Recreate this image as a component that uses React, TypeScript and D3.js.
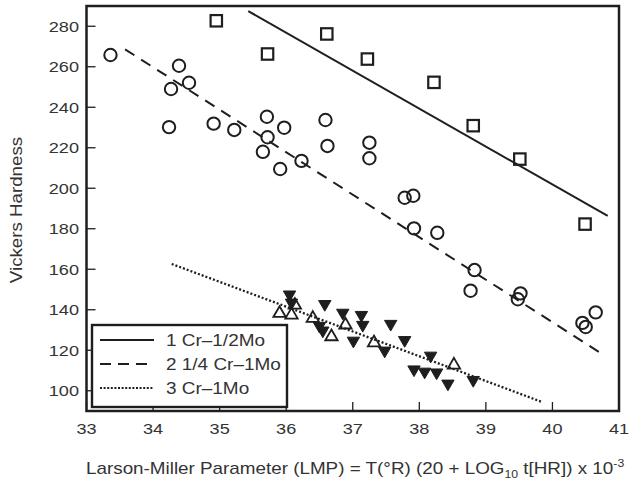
import React from "react";
import * as d3 from "d3";

const xTicks = [33, 34, 35, 36, 37, 38, 39, 40, 41];
const yTicks = [100, 120, 140, 160, 180, 200, 220, 240, 260, 280];

const series1X = [34.95, 35.72, 36.61, 37.22, 38.22, 38.81, 39.51, 40.49];
const series1Y = [282.7, 266.3, 276.2, 263.8, 252.3, 230.9, 214.4, 182.3];

const series2X = [33.36, 34.39, 34.27, 34.54, 34.24, 34.91, 35.22, 35.71, 35.72, 35.65, 35.97, 35.91, 36.23, 36.59, 36.62, 37.25, 37.25, 37.78, 37.91, 37.92, 38.27, 38.83, 38.77, 39.52, 39.48, 40.65, 40.45, 40.5];
const series2Y = [265.8, 260.5, 249, 252.1, 230.2, 231.9, 228.8, 235.3, 225.2, 218, 229.9, 209.5, 213.5, 233.7, 220.9, 222.5, 214.8, 195.3, 196.3, 180.2, 178, 159.6, 149.4, 148.1, 145.2, 138.7, 133.5, 131.5];

const openTriX = [35.9, 36.08, 36.13, 36.4, 36.68, 36.89, 37.32, 38.52];
const openTriY = [138.2, 137.4, 142.3, 135.8, 126.7, 132.5, 123.7, 112.7];

const filledTriX = [36.05, 36.08, 36.58, 36.85, 37.13, 37.15, 36.5, 36.55, 37.01, 37.57, 37.78, 37.48, 38.17, 37.92, 38.08, 38.26, 38.43, 38.81];
const filledTriY = [147.5, 143.5, 142.8, 138.5, 137.4, 132.5, 132, 129.7, 124.7, 133, 125, 119.8, 117.3, 110.5, 109.4, 109, 103.5, 105.3];

const fitLabels = ["1 Cr\u20131/2Mo", "2 1/4 Cr\u20131Mo", "3 Cr\u20131Mo"];
const fitX1 = [35.43, 33.58, 34.28];
const fitY1 = [287.5, 268.6, 162.6];
const fitX2 = [40.83, 40.75, 39.84];
const fitY2 = [186.3, 118.1, 94.5];

const INK = "#1e1e1e";
const TEXT = "#333";
const FONT = "'Liberation Sans', Arial, Helvetica, sans-serif";
const SX = 1.17;
const dashes = [null, "11,8", "2,2"];

export default function App() {
  const left = 86.5, right = 619, top = 6, bottom = 411;
  const x = d3.scaleLinear().domain([33, 41]).range([left, right]);
  const y = d3.scaleLinear().domain([90, 290]).range([bottom, top]);

  const triUp = d3.symbol().type(d3.symbolTriangle).size(66)() as string;

  const legX = 92, legY = 325, legW = 195, legH = 82;

  return (
    <svg width={629} height={488} style={{ position: "absolute", left: 0, top: 0, background: "#fff" }}>
      <rect width={629} height={488} fill="#fff" />
      {xTicks.map((t) => (
        <line key={"xt" + t} x1={x(t)} x2={x(t)} y1={bottom} y2={bottom - 9} stroke={INK} strokeWidth={1.3} />
      ))}
      {yTicks.map((t) => (
        <line key={"yt" + t} x1={left} x2={left + 9} y1={y(t)} y2={y(t)} stroke={INK} strokeWidth={1.3} />
      ))}
      {fitLabels.map((l, i) => (
        <line key={"fit" + i} x1={x(fitX1[i])} y1={y(fitY1[i])} x2={x(fitX2[i])} y2={y(fitY2[i])}
          stroke={INK} strokeWidth={i === 2 ? 2.3 : 2} strokeDasharray={dashes[i] ?? undefined} />
      ))}
      {series2X.map((v, i) => (
        <circle key={"c" + i} cx={x(v)} cy={y(series2Y[i])} r={6.2} fill="none" stroke={INK} strokeWidth={2} />
      ))}
      {series1X.map((v, i) => (
        <rect key={"s" + i} x={x(v) - 5.7} y={y(series1Y[i]) - 5.7} width={11.4} height={11.4} fill="none" stroke={INK} strokeWidth={2.2} />
      ))}
      {openTriX.map((v, i) => (
        <path key={"ot" + i} d={triUp} transform={`translate(${x(v)},${y(openTriY[i])})`} fill="none" stroke={INK} strokeWidth={1.8} />
      ))}
      {filledTriX.map((v, i) => (
        <path key={"ft" + i} d={triUp} transform={`translate(${x(v)},${y(filledTriY[i])}) rotate(180)`} fill={INK} stroke={INK} strokeWidth={1} />
      ))}
      <rect x={legX} y={legY} width={legW} height={legH} fill="#fff" stroke={INK} strokeWidth={2.4} />
      {fitLabels.map((l, i) => {
        const ly = legY + 15 + i * 24;
        return (
          <g key={"leg" + i}>
            <line x1={100} x2={154} y1={ly} y2={ly} stroke={INK} strokeWidth={i === 2 ? 1.8 : 2.2}
              strokeDasharray={i === 1 ? "11,7" : i === 2 ? "2,1.6" : undefined} />
            <g transform={`translate(166,${ly + 5.8}) scale(${SX},1)`}>
              <text x={0} y={0} fontFamily={FONT} fontSize={16.2} fill={TEXT}>{l}</text>
            </g>
          </g>
        );
      })}
      <rect x={left} y={top} width={right - left} height={bottom - top} fill="none" stroke={INK} strokeWidth={2.5} />
      {xTicks.map((t) => (
        <g key={"xl" + t} transform={`translate(${x(t)},434) scale(${SX},1)`}>
          <text textAnchor="middle" fontFamily={FONT} fontSize={15.5} fill={TEXT}>{t}</text>
        </g>
      ))}
      {yTicks.map((t) => (
        <g key={"yl" + t} transform={`translate(79,${y(t) + 5.5}) scale(${SX},1)`}>
          <text textAnchor="end" fontFamily={FONT} fontSize={15.5} fill={TEXT}>{t}</text>
        </g>
      ))}
      <g transform={`translate(22,210) rotate(-90) scale(${SX},1)`}>
        <text textAnchor="middle" fontFamily={FONT} fontSize={16} fill={TEXT}>Vickers Hardness</text>
      </g>
      <g transform={`translate(86,474) scale(${SX},1)`}>
        <text x={0} y={0} fontFamily={FONT} fontSize={16.1} fill={TEXT}>
          <tspan>Larson-Miller Parameter (LMP) = T(°R) (20 + LOG</tspan>
          <tspan fontSize={10.5} dy={4}>10</tspan>
          <tspan dy={-4}> t[HR]) x 10</tspan>
          <tspan fontSize={10.5} dy={-7}>-3</tspan>
        </text>
      </g>
    </svg>
  );
}
